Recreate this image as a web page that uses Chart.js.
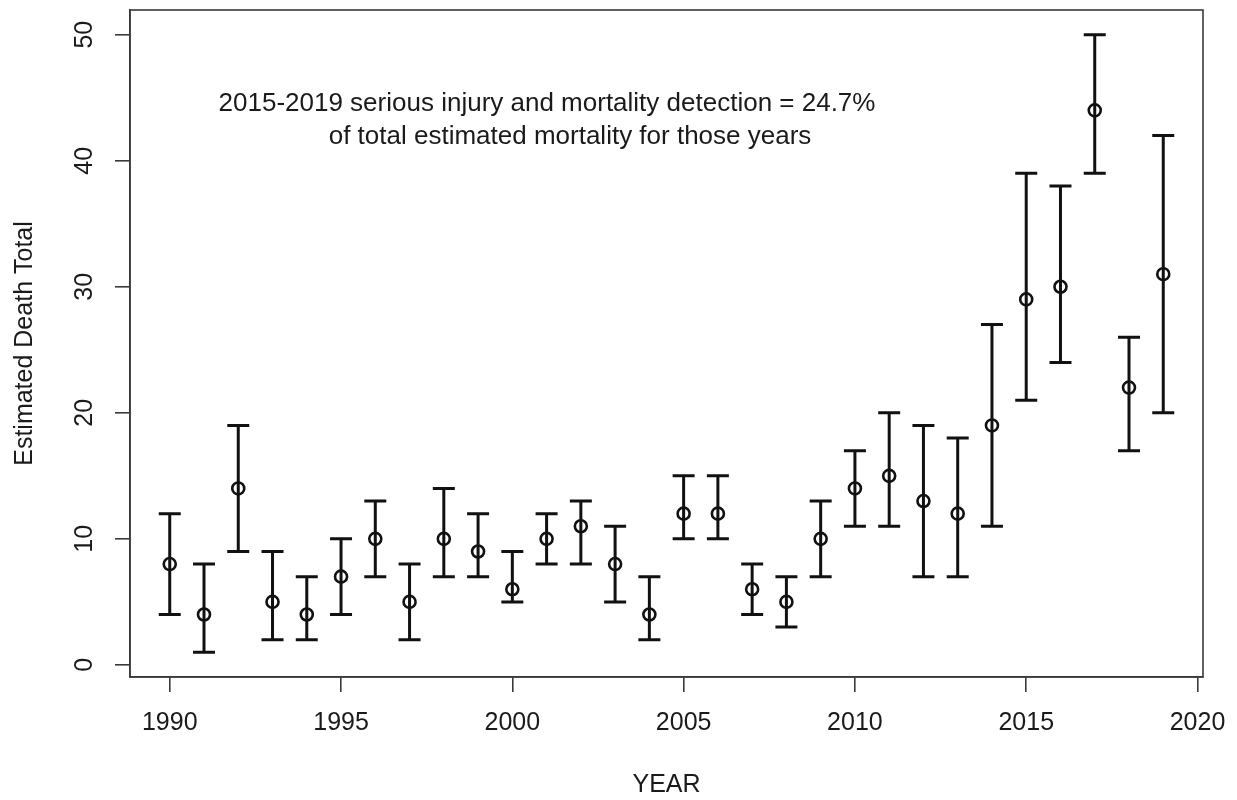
<!DOCTYPE html>
<html>
<head>
<meta charset="utf-8">
<script src="https://cdn.jsdelivr.net/npm/chart.js@4/dist/chart.umd.min.js"></script>
<style>
  html, body { margin: 0; padding: 0; background: #fff; }
  #wrap { width: 1237px; height: 800px; }
</style>
</head>
<body>
<div id="wrap"><canvas id="deathChart" width="1237" height="800"></canvas></div>
<script>
// values
const years = [1990, 1991, 1992, 1993, 1994, 1995, 1996, 1997, 1998, 1999,
               2000, 2001, 2002, 2003, 2004, 2005, 2006, 2007, 2008, 2009,
               2010, 2011, 2012, 2013, 2014, 2015, 2016, 2017, 2018, 2019];
const estimates = [8, 4, 14, 5, 4, 7, 10, 5, 10, 9,
                   6, 10, 11, 8, 4, 12, 12, 6, 5, 10,
                   14, 15, 13, 12, 19, 29, 30, 44, 22, 31];
const lowerCI = [4, 1, 9, 2, 2, 4, 7, 2, 7, 7,
                 5, 8, 8, 5, 2, 10, 10, 4, 3, 7,
                 11, 11, 7, 7, 11, 21, 24, 39, 17, 20];
const upperCI = [12, 8, 19, 9, 7, 10, 13, 8, 14, 12,
                 9, 12, 13, 11, 7, 15, 15, 8, 7, 13,
                 17, 20, 19, 18, 27, 39, 38, 50, 26, 42];
const xTicks = [1990, 1995, 2000, 2005, 2010, 2015, 2020];
const yTicks = [0, 10, 20, 30, 40, 50];
const noteLines = [
    '2015-2019 serious injury and mortality detection = 24.7%',
    'of total estimated mortality for those years'
];

const FONT = '"Liberation Sans", Arial, sans-serif';
const INK = '#111';
const AXIS = '#3a3a3a';

// R style axis limits: data range plus 4% each side
const xMin = 1990 - 29 * 0.04, xMax = 2019 + 29 * 0.04;
const yMin = 1 - 49 * 0.04, yMax = 50 + 49 * 0.04;

// error bars with caps, drawn through the chart scales
const errorBarPlugin = {
    id: 'errorBars',
    beforeDatasetsDraw(chart) {
        const { ctx, scales: { x, y } } = chart;
        const cap = 11;
        ctx.save();
        ctx.strokeStyle = INK;
        ctx.lineWidth = 3;
        ctx.lineCap = 'butt';
        years.forEach((yr, i) => {
            const px = x.getPixelForValue(yr);
            const lo = y.getPixelForValue(lowerCI[i]);
            const hi = y.getPixelForValue(upperCI[i]);
            ctx.beginPath();
            ctx.moveTo(px, lo); ctx.lineTo(px, hi);
            ctx.moveTo(px - cap, lo); ctx.lineTo(px + cap, lo);
            ctx.moveTo(px - cap, hi); ctx.lineTo(px + cap, hi);
            ctx.stroke();
        });
        ctx.restore();
    }
};

// box, tick labels, axis titles and the note, R base-graphics look
const frameTextPlugin = {
    id: 'frameText',
    afterDraw(chart) {
        const { ctx, chartArea: a, scales: { x, y } } = chart;
        ctx.save();
        ctx.strokeStyle = AXIS;
        ctx.lineWidth = 1.6;
        ctx.strokeRect(a.left, a.top, a.right - a.left, a.bottom - a.top);

        ctx.fillStyle = '#1a1a1a';
        ctx.font = '25px ' + FONT;
        ctx.textAlign = 'center';
        ctx.textBaseline = 'middle';
        xTicks.forEach(t => ctx.fillText(String(t), x.getPixelForValue(t), 723));
        yTicks.forEach(t => {
            ctx.save();
            ctx.translate(85, y.getPixelForValue(t));
            ctx.rotate(-Math.PI / 2);
            ctx.fillText(String(t), 0, 0);
            ctx.restore();
        });

        ctx.fillText('YEAR', (a.left + a.right) / 2, 785);
        ctx.save();
        ctx.translate(25, (a.top + a.bottom) / 2);
        ctx.rotate(-Math.PI / 2);
        ctx.fillText('Estimated Death Total', 0, 0);
        ctx.restore();

        ctx.font = '26px ' + FONT;
        ctx.fillText(noteLines[0], 547, 104);
        ctx.fillText(noteLines[1], 570, 137);
        ctx.restore();
    }
};

new Chart(document.getElementById('deathChart'), {
    type: 'scatter',
    data: {
        datasets: [{
            data: years.map((yr, i) => ({ x: yr, y: estimates[i] })),
            pointStyle: 'circle',
            pointRadius: 6,
            pointHoverRadius: 6,
            pointBorderWidth: 2.6,
            pointBorderColor: INK,
            pointBackgroundColor: 'rgba(0,0,0,0)',
            showLine: false
        }]
    },
    options: {
        responsive: false,
        animation: false,
        devicePixelRatio: 1,
        layout: { padding: { left: 0, top: 10, right: 34, bottom: 0 } },
        plugins: { legend: { display: false }, tooltip: { enabled: false } },
        scales: {
            x: {
                type: 'linear',
                min: xMin, max: xMax,
                ticks: { display: false, stepSize: 5, includeBounds: false },
                grid: { drawOnChartArea: false, drawTicks: true, tickLength: 15, color: AXIS, lineWidth: 1.6 },
                border: { display: true, color: AXIS, width: 1.6 },
                afterFit(scale) { scale.height = 123; }
            },
            y: {
                type: 'linear',
                min: yMin, max: yMax,
                ticks: { display: false, stepSize: 10, includeBounds: false },
                grid: { drawOnChartArea: false, drawTicks: true, tickLength: 15, color: AXIS, lineWidth: 1.6 },
                border: { display: true, color: AXIS, width: 1.6 },
                afterFit(scale) { scale.width = 130; }
            }
        }
    },
    plugins: [errorBarPlugin, frameTextPlugin]
});
</script>
</body>
</html>
